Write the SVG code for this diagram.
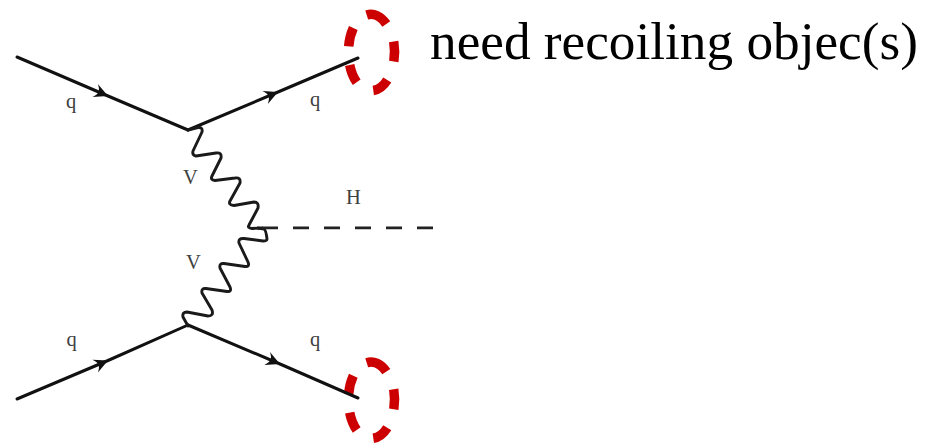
<svg xmlns="http://www.w3.org/2000/svg" width="928" height="445" viewBox="0 0 928 445">
<style>
.l{fill:none;stroke:#111;stroke-width:3;stroke-linecap:round;stroke-linejoin:round}
.w{fill:none;stroke:#1a1a1a;stroke-width:2.9;stroke-linecap:round;stroke-linejoin:round}
.d{fill:none;stroke:#222;stroke-width:2.8;stroke-dasharray:16 15}
.r{fill:none;stroke:#cc0000;stroke-width:9.500}
.s{font-family:"Liberation Serif","Times New Roman",serif;font-size:20.500px;fill:#404040;text-anchor:middle}
.t{font-family:"Liberation Serif","Times New Roman",serif;font-size:53.250px;fill:#000}
</style>
<defs>
<marker id="a" markerUnits="userSpaceOnUse" markerWidth="20" markerHeight="18" refX="15" refY="9" orient="auto">
<path d="M15 9L1 2Q5 6.500 4.500 9Q5 11.500 1 16Z" fill="#111"/>
</marker>
<path id="ring" class="r" d="M366.700 15A23 38 0 0 1 386.300 24M393.700 41.500A23 38 0 0 1 393.800 61.500M387.300 80A23 38 0 0 1 373.300 90.500M356.700 82.300A23 38 0 0 1 349.700 65M348.700 46.300A23 38 0 0 1 353.300 28"/>
</defs>
<g id="recoil-top"><use href="#ring"/></g>
<g id="recoil-bottom"><use href="#ring" y="347.700"/></g>
<g id="connectors">
<path class="l" marker-mid="url(#a)" d="M17 57L108 96L188 130"/>
<path class="l" marker-mid="url(#a)" d="M188 130L278 92L358 58"/>
<path class="l" marker-mid="url(#a)" d="M17 399L108 360.500L188 325"/>
<path class="l" marker-mid="url(#a)" d="M188 325L280 364L358 398"/>
<path class="w" d="M188 130L198 127.500Q203 127 202 132L193 151Q192 155 196 156L216 153Q222 152 221 158L212 176Q210 180 215 180.500L235 178Q241 177 240 183L230 201Q228 205 234 205.500L254 202Q259 202 258 208L249 225Q247 228 252 228.500L262 228"/>
<path class="w" d="M258 228L264 229Q266 230 267 239Q267 241 263 241L244 238.500Q238 238 239 243L248 262Q250 267 245 266.500L224 263.500Q219 263 220 268L230 287Q232 292 227 291.500L206 288.500Q201 288 202 293L212 310Q214 316 208 316L187 312Q182 312 183 317L188 326"/>
<path class="d" d="M262 227.800H434"/>
</g>
<g id="vertex-labels">
<text class="s" x="71" y="108">q</text>
<text class="s" x="315" y="106">q</text>
<text class="s" x="71.500" y="346">q</text>
<text class="s" x="315" y="346">q</text>
<text class="s" x="190.500" y="184">V</text>
<text class="s" x="193.500" y="269">V</text>
<text class="s" x="353.500" y="204">H</text>
</g>
<g id="caption"><text class="t" x="430" y="59">need recoiling objec(s)</text></g>
</svg>
